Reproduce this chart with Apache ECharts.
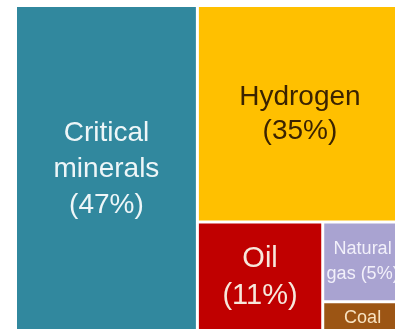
<!DOCTYPE html>
<html>
<head>
<meta charset="utf-8">
<script src="https://cdn.jsdelivr.net/npm/echarts@6/dist/echarts.min.js"></script>
<style>
  html, body { margin: 0; padding: 0; background: #ffffff; }
  #chart { width: 395px; height: 329px; }
</style>
</head>
<body>
<div id="chart"></div>
<script>
// Share of each energy source / material (percent)
const categories = ['Critical minerals', 'Hydrogen', 'Oil', 'Natural gas', 'Coal'];
const shares = [47, 35, 11, 5, 2];
// How each tile's caption is broken into lines
const captionLines = [
  ['Critical', 'minerals'],
  ['Hydrogen'],
  ['Oil'],
  ['Natural', 'gas'],
  ['Coal']
];
// whether the percentage goes on its own line
const pctOnNewLine = [true, true, true, false, true];

const tileColors = ['#31889e', '#ffc000', '#c00000', '#a9a3d1', '#9c5514'];
const textColors = ['#eef6f8', '#3b2300', '#f7e8dc', '#f2f0fa', '#f8e2c0'];
const fontSizes = [28, 28, 29, 18, 18];
const lineHeights = [36, 34, 37, 25, 22];

const data = categories.map((name, i) => ({
  name: name,
  value: shares[i],
  itemStyle: { color: tileColors[i] },
  label: {
    color: textColors[i],
    fontSize: fontSizes[i],
    lineHeight: lineHeights[i]
  }
}));

const chart = echarts.init(document.getElementById('chart'), null, { renderer: 'canvas' });
chart.setOption({
  animation: false,
  series: [{
    type: 'treemap',
    left: 17,
    top: 7,
    width: 384,
    height: 325,
    roam: false,
    nodeClick: false,
    breadcrumb: { show: false },
    sort: 'desc',
    squareRatio: 1,
    visibleMin: 0,
    itemStyle: { borderWidth: 0, gapWidth: 3, borderColor: '#ffffff' },
    levels: [{ itemStyle: { borderWidth: 0, gapWidth: 3, borderColor: '#ffffff' } }],
    label: {
      show: true,
      position: 'inside',
      align: 'center',
      verticalAlign: 'middle',
      padding: 0,
      overflow: 'none',
      fontFamily: '"Liberation Sans", Arial, sans-serif',
      formatter: function (p) {
        const i = categories.indexOf(p.name);
        const head = captionLines[i].join('\n');
        const pct = '(' + p.value + '%)';
        return pctOnNewLine[i] ? head + '\n' + pct : head + ' ' + pct;
      }
    },
    upperLabel: { show: false },
    data: data
  }]
});

// Treemap captions are clipped to whole lines that fit their tile; let the
// small tiles' captions run past the tile edge instead of dropping lines.
const zr = chart.getZr();
zr.storage.getDisplayList(true).forEach(function (el) {
  if (el.type === 'text' && el.style) {
    el.style.lineOverflow = 'none';
    el.dirty();
  }
});
zr.refreshImmediately();
</script>
</body>
</html>
